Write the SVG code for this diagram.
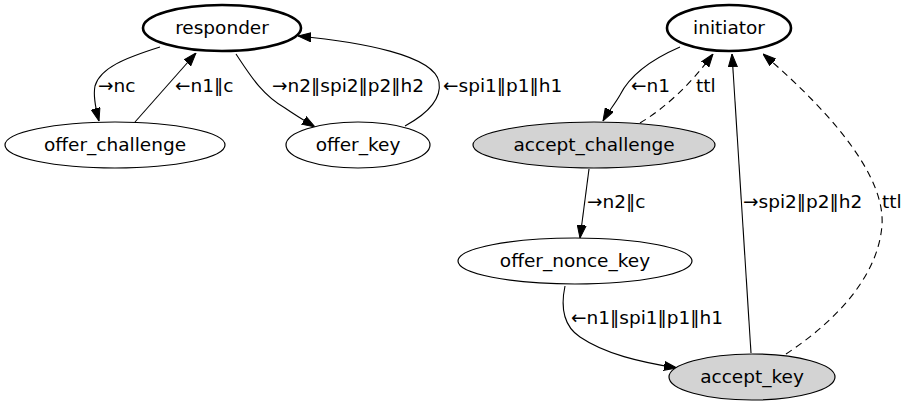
<svg xmlns="http://www.w3.org/2000/svg" width="911" height="407" viewBox="0 0 911 407">
<defs>
<style>
text{font-family:"DejaVu Sans","Liberation Sans",sans-serif;font-size:18.5px;fill:#000}
.n text{text-anchor:middle}
.n ellipse{fill:#fff;stroke:#000;stroke-width:1.2}
.n ellipse.bold{stroke-width:2.6}
.n ellipse.gray{fill:#d3d3d3}
.e path{fill:none;stroke:#000;stroke-width:1.1}
.e path.d{stroke-dasharray:7,5}
</style>
<marker id="ah" viewBox="0 0 13 10" refX="13" refY="5" markerWidth="13" markerHeight="10" markerUnits="userSpaceOnUse" orient="auto">
<path d="M0,0.5 L13,5 L0,9.5 z" fill="#000" stroke="#000" stroke-width="1"/>
</marker>
</defs>
<rect width="911" height="407" fill="#fff"/>
<g id="edges" class="e">
<path d="M160,47 C125,58 100,68 95,86 C93,96 96,110 99,121" marker-end="url(#ah)"/>
<path d="M135,122 L196,53" marker-end="url(#ah)"/>
<path d="M236,54 C250,75 262,95 285,108 C295,115 305,121 315,127" marker-end="url(#ah)"/>
<path d="M405,126 C425,115 442,100 439,82 C434,55 360,42 298,36" marker-end="url(#ah)"/>
<path d="M680,47 C650,60 630,75 620,95 C615,104 608,112 603,121" marker-end="url(#ah)"/>
<path class="d" d="M640,123 C665,108 690,85 713,54" marker-end="url(#ah)"/>
<path d="M751,353 L732,54" marker-end="url(#ah)"/>
<path class="d" d="M786,354 C830,325 878,280 882,225 C885,180 840,120 763,54" marker-end="url(#ah)"/>
<path d="M589,169 L580,238" marker-end="url(#ah)"/>
<path d="M565,286 C561,305 562,325 580,337 C605,354 640,362 677,368" marker-end="url(#ah)"/>
<text x="98" y="92">→nc</text>
<text x="175" y="92">←n1‖c</text>
<text x="272" y="92">→n2‖spi2‖p2‖h2</text>
<text x="443" y="92">←spi1‖p1‖h1</text>
<text x="631" y="92">←n1</text>
<text x="696" y="92">ttl</text>
<text x="587" y="208">→n2‖c</text>
<text x="743" y="208">→spi2‖p2‖h2</text>
<text x="882" y="208">ttl</text>
<text x="571" y="324">←n1‖spi1‖p1‖h1</text>
</g>
<g id="responder" class="n"><ellipse class="bold" cx="222" cy="28" rx="79" ry="23"/><text x="222" y="34">responder</text></g>
<g id="offer_challenge" class="n"><ellipse cx="115" cy="145" rx="110" ry="23"/><text x="115" y="151">offer_challenge</text></g>
<g id="offer_key" class="n"><ellipse cx="358" cy="145" rx="72" ry="23"/><text x="358" y="151">offer_key</text></g>
<g id="initiator" class="n"><ellipse class="bold" cx="729" cy="28" rx="62" ry="23"/><text x="729" y="34">initiator</text></g>
<g id="accept_challenge" class="n"><ellipse class="gray" cx="594" cy="145" rx="121" ry="23"/><text x="594" y="151">accept_challenge</text></g>
<g id="offer_nonce_key" class="n"><ellipse cx="575" cy="261" rx="117" ry="23"/><text x="575" y="267">offer_nonce_key</text></g>
<g id="accept_key" class="n"><ellipse class="gray" cx="752" cy="377" rx="83" ry="23"/><text x="752" y="383">accept_key</text></g>
</svg>
